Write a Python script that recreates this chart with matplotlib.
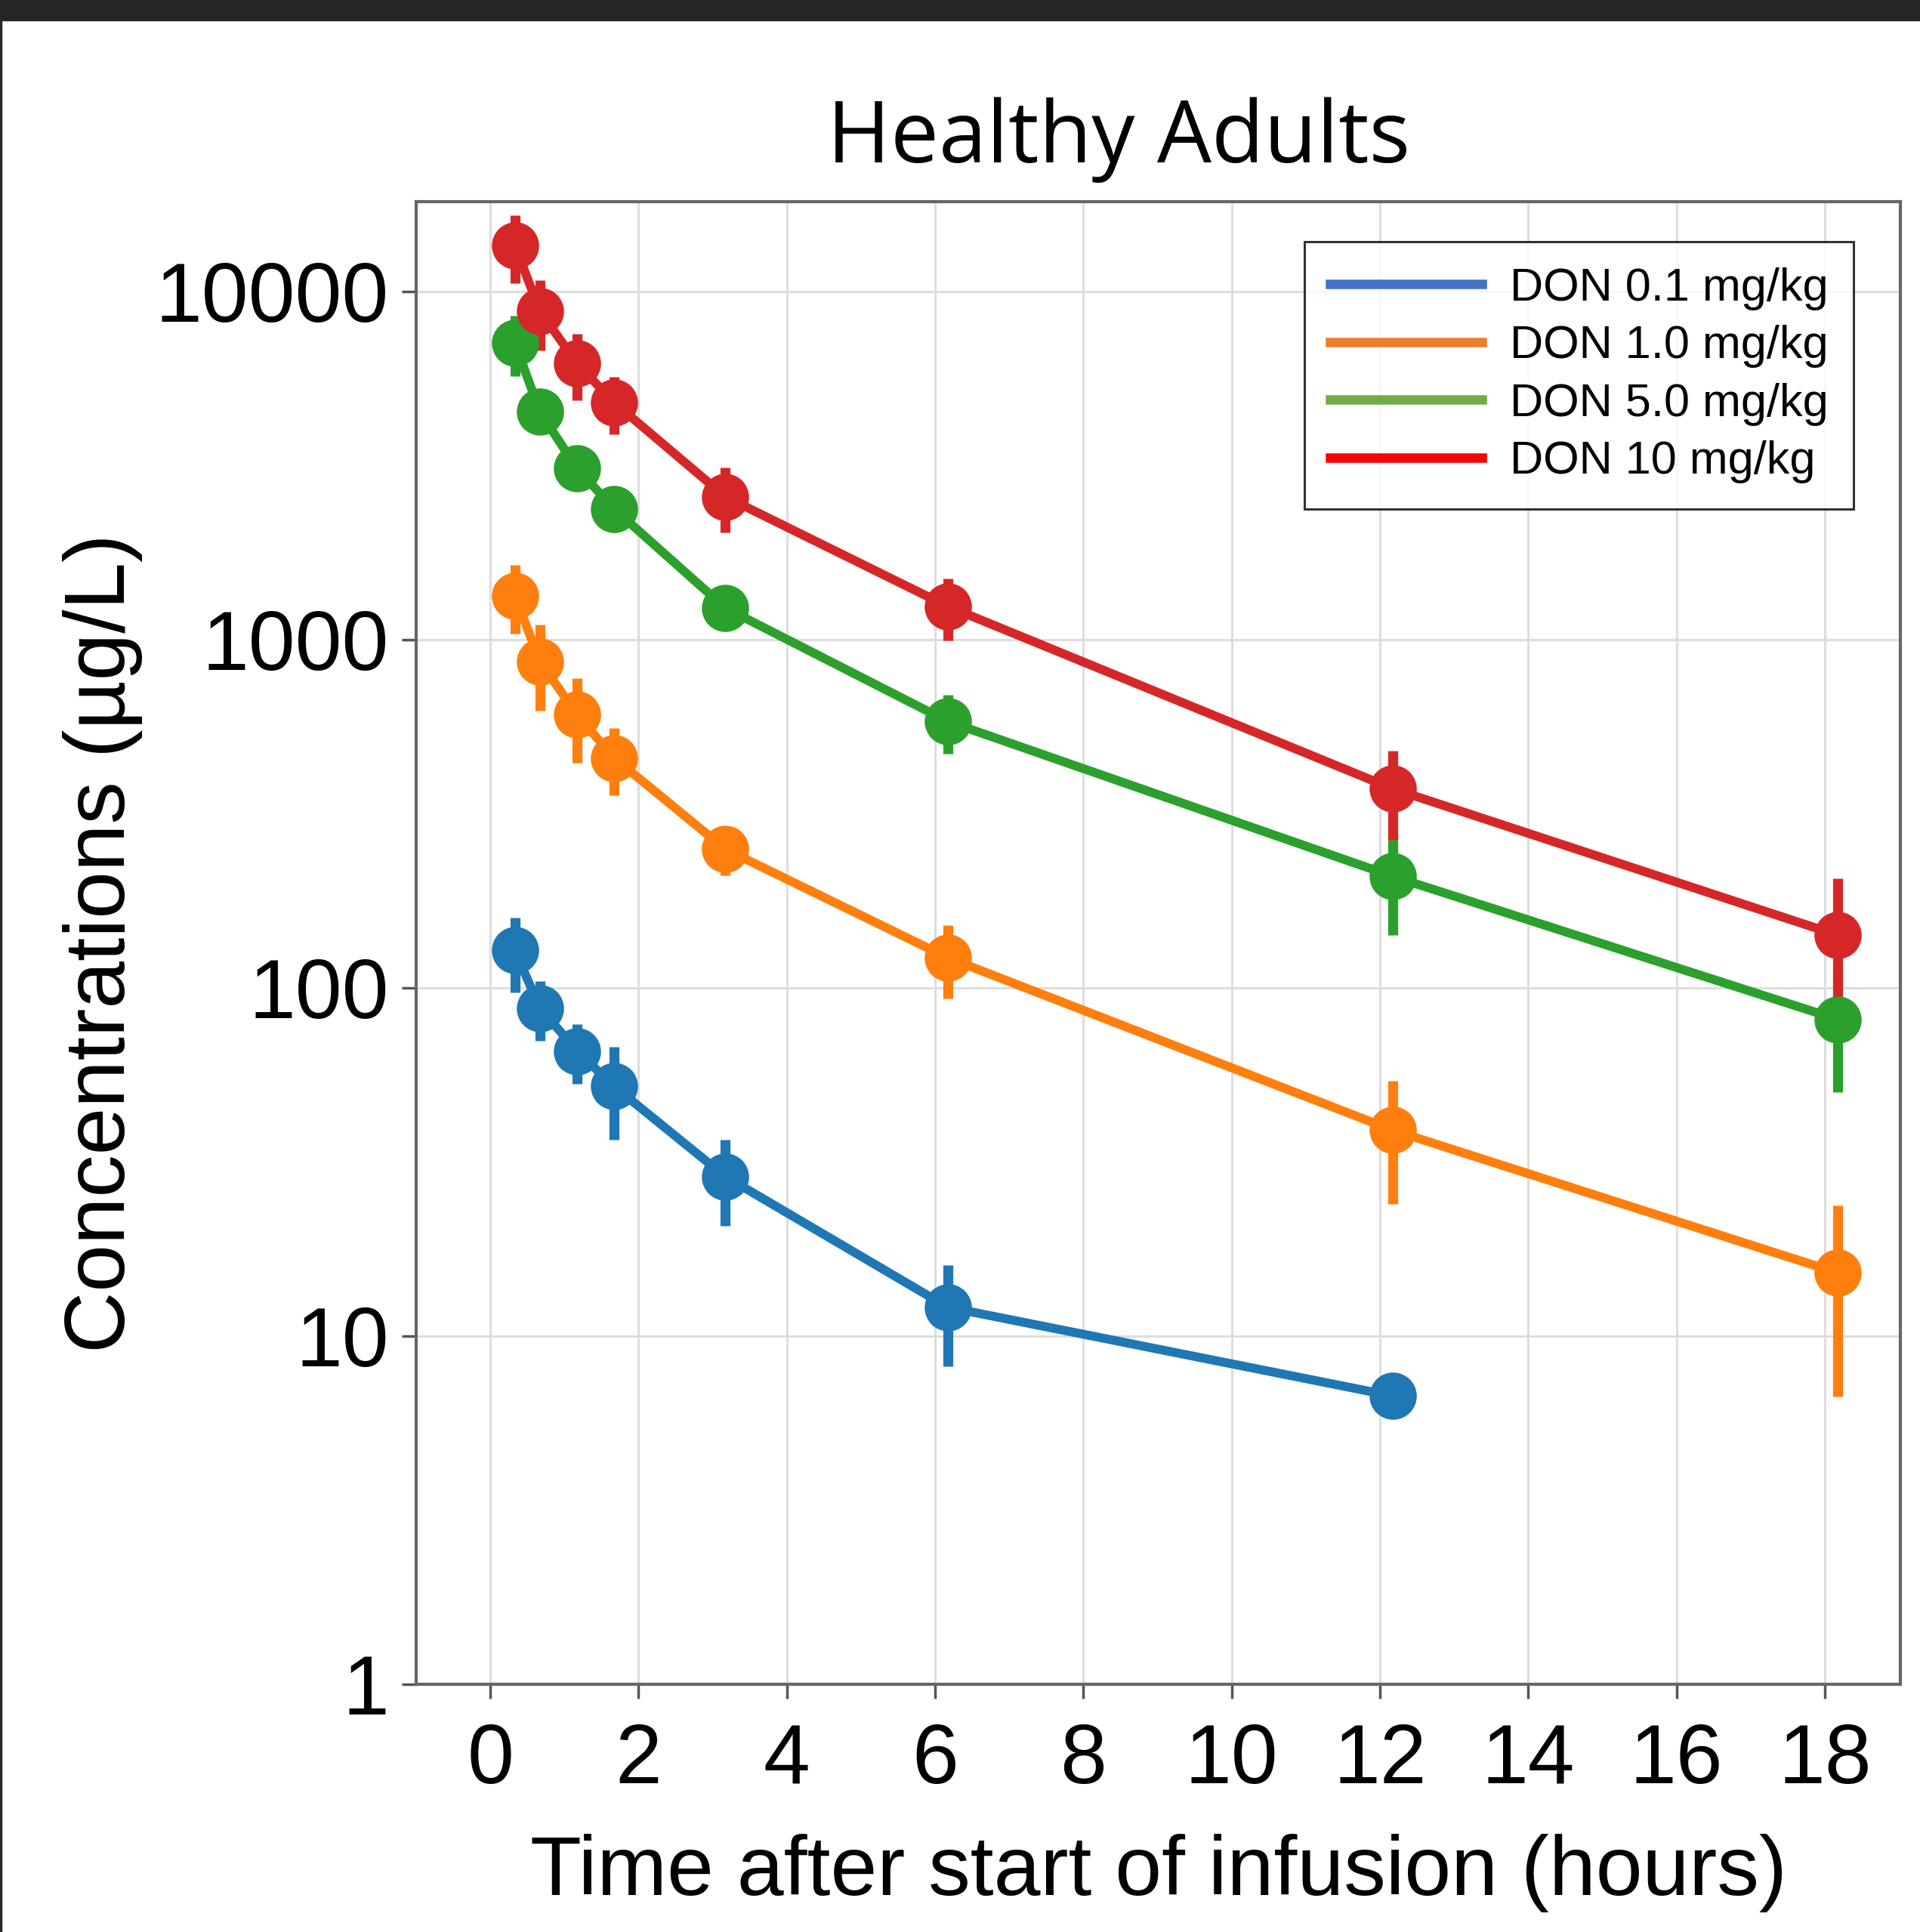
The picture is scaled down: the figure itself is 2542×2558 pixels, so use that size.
import matplotlib
matplotlib.use("Agg")
import matplotlib.pyplot as plt
from matplotlib.lines import Line2D
from matplotlib.patches import Rectangle
from matplotlib.ticker import FixedLocator, FixedFormatter, NullLocator

plt.rcParams['font.family'] = ['Liberation Sans', 'DejaVu Sans']

# sampling times (hours after start of infusion)
time_h = [0.33, 0.67, 1.17, 1.67, 3.17, 6.17, 12.17, 18.17]

# mean concentrations (ug/L) and SD
don_01 = [128, 87.5, 65.8, 52.1, 28.7, 12.1, 6.73]
don_01_sd = [31, 17, 12.7, 15.5, 8, 3.9, 0]
don_10 = [1337, 865, 608, 457, 250, 122, 39.0, 15.2]
don_10_sd = [300, 240, 165, 100, 40, 29, 15, 8.5]
don_50 = [7110, 4500, 3100, 2370, 1232, 582, 209, 81.2]
don_50_sd = [1400, 400, 300, 200, 100, 112, 67, 31]
don_100 = [13550, 8770, 6200, 4790, 2570, 1245, 373, 141.7]
don_100_sd = [3000, 2000, 1330, 900, 540, 250, 107, 64]

legend_labels = ["DON 0.1 mg/kg", "DON 1.0 mg/kg", "DON 5.0 mg/kg", "DON 10 mg/kg"]
legend_colors = ["#4472C4", "#ED7D31", "#70AD47", "#FF0000"]
plot_colors = ["#1f77b4", "#ff7f0e", "#2ca02c", "#d62728"]

x_ticks = [0, 2, 4, 6, 8, 10, 12, 14, 16, 18]
y_ticks = [1, 10, 100, 1000, 10000]
y_ticklabels = ["1", "10", "100", "1000", "10000"]

W, H = 2542, 2558
fig = plt.figure(figsize=(W / 100, H / 100), dpi=100)
ax = fig.add_axes([551 / W, 1 - 2230 / H, (2516 - 551) / W, (2230 - 267) / H])

series = [
    (don_01, don_01_sd),
    (don_10, don_10_sd),
    (don_50, don_50_sd),
    (don_100, don_100_sd),
]
for (vals, sd), col in zip(series, plot_colors):
    t = time_h[:len(vals)]
    ax.errorbar(t, vals, yerr=sd, fmt='o-', color=col, lw=8.5, ms=44,
                elinewidth=9.5, capsize=0, zorder=3)

ax.set_yscale('log')
ax.set_xlim(-1, 19.02)
ax.set_ylim(1, 18080)
ax.xaxis.set_major_locator(FixedLocator(x_ticks))
ax.yaxis.set_major_locator(FixedLocator(y_ticks))
ax.yaxis.set_major_formatter(FixedFormatter(y_ticklabels))
ax.yaxis.set_minor_locator(NullLocator())

ax.grid(True, color='#dddddd', lw=2.2, zorder=0)
ax.set_axisbelow(True)
for s in ax.spines.values():
    s.set_color('#666666')
    s.set_linewidth(3)
ax.tick_params(axis='both', which='major', length=14, width=2.5, color='#555555',
               labelsize=80)
ax.tick_params(axis='y', pad=12)
ax.tick_params(axis='x', pad=22)

ax.set_xlabel("Time after start of infusion (hours)", fontsize=80, labelpad=32)
ax.set_ylabel("Concentrations (µg/L)", fontsize=81, labelpad=12)

fig.text(1481 / W, 1 - 215 / H, "Healthy Adults", fontsize=82, ha='center',
         va='baseline', family=['Open Sans', 'DejaVu Sans'])

handles = [Line2D([], [], color=c, lw=9) for c in legend_colors]
leg = ax.legend(handles, legend_labels, loc='upper left',
                bbox_to_anchor=((1727 - 551) / (2516 - 551), (2230 - 320) / (2230 - 267)),
                fontsize=44, frameon=True, fancybox=False, handlelength=3.3,
                handletextpad=0.6, labelspacing=0.32, borderpad=0.55, borderaxespad=0)
leg.get_frame().set_edgecolor('black')
leg.get_frame().set_linewidth(2.2)

# screenshot frame: dark bar on top, thin line on the left
fig.patches.append(Rectangle((0, 1 - 27 / H), 1, 27 / H, transform=fig.transFigure,
                             color='#262626', zorder=10))
fig.patches.append(Rectangle((0, 0), 2 / W, 1, transform=fig.transFigure,
                             color='#262626', zorder=10))

fig.savefig("out.png", dpi=100)
